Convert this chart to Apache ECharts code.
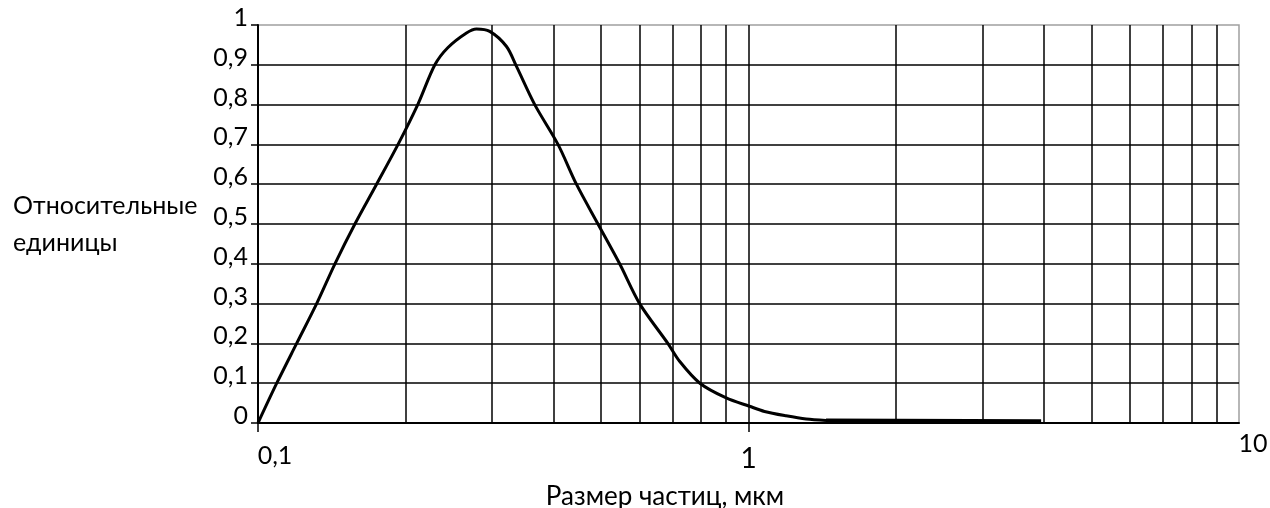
<!DOCTYPE html>
<html>
<head>
<meta charset="utf-8">
<script src="https://cdn.jsdelivr.net/npm/echarts@6/dist/echarts.min.js"></script>
<style>html,body{margin:0;padding:0;background:#fff}#c{width:1270px;height:508px}</style>
</head>
<body>
<div id="c"></div>
<script>
// Particle size, µm (log axis) and relative units
const sizeX = [0.1, 0.1092, 0.1199, 0.1317, 0.1435, 0.1576, 0.1745, 0.193, 0.2117, 0.2294, 0.2437, 0.2661, 0.2789, 0.2968, 0.3211, 0.3365, 0.3666, 0.4089, 0.4458, 0.4933, 0.5462, 0.5998, 0.6848, 0.7236, 0.7959, 0.9007, 1.0047, 1.078, 1.193, 1.311, 1.439];
const relY  = [0,   0.1,    0.2,    0.3,    0.4,    0.5,    0.6,    0.7,   0.8,    0.9,    0.943,  0.98,   0.99,   0.984,  0.946,  0.896,  0.8,    0.7,    0.6,    0.5,    0.4,    0.3,    0.2,    0.155,  0.1,    0.063,  0.042,  0.029, 0.018, 0.010, 0.0065];
// flat (thick) tail
const tailX = [1.439, 3.95];
const tailY = [0.0055, 0.004];
// vertical grid lines (log minor grid)
const gridX = [0.2, 0.3, 0.4, 0.5, 0.6, 0.7, 0.8, 0.9, 1, 2, 3, 4, 5, 6, 7, 8, 9];
// tick labels
const xTickValues = [0.1, 1, 10];
const xTickLabels = ['0,1', '1', '10'];
const yTickLabels = ['0', '0,1', '0,2', '0,3', '0,4', '0,5', '0,6', '0,7', '0,8', '0,9', '1'];
const xTitle = 'Размер частиц, мкм';
const yTitle = 'Относительные\nединицы';

const FONT = 'Lato';
const TICKFS = 25;
const chart = echarts.init(document.getElementById('c'), null, {renderer: 'canvas'});
chart.setOption({
  animation: false,
  backgroundColor: '#fff',
  textStyle: {fontFamily: FONT, color: '#000'},
  grid: {left: 258, top: 25, right: 31, bottom: 85, outerBoundsMode: 'none', containLabel: false,
         show: true, borderColor: '#a0a0a0', borderWidth: 1.5},
  xAxis: {
    type: 'log', logBase: 10, min: 0.1, max: 10,
    axisLine: {show: true, lineStyle: {color: '#000', width: 2}},
    axisTick: {show: true, customValues: [0.1, 1], length: 9, lineStyle: {color: '#000', width: 1.5}},
    splitLine: {show: false},
    axisLabel: {
      show: true, margin: 8, align: 'center', fontSize: TICKFS, fontFamily: FONT, color: '#000',
      formatter: function (v) {
        let i = xTickValues.findIndex(t => Math.abs(Math.log10(t) - Math.log10(v)) < 1e-6);
        if (i < 0) return '';
        const key = ['a', 'c', 'b'][i];
        return '{' + key + '|' + xTickLabels[i] + '}';
      },
      rich: {
        a: {fontSize: TICKFS, fontFamily: FONT, padding: [12, 0, 0, 34]},
        c: {fontSize: 28, fontFamily: FONT, padding: [14, 0, 0, 0]},
        b: {fontSize: TICKFS, fontFamily: FONT, padding: [0, 0, 0, 28]}
      }
    },
    name: xTitle, nameLocation: 'middle', nameGap: 61,
    nameTextStyle: {fontSize: 26, fontFamily: FONT, color: '#000', padding: [0, 167, 0, 0]}
  },
  yAxis: {
    type: 'value', min: 0, max: 1, interval: 0.1,
    axisLine: {show: true, lineStyle: {color: '#000', width: 2}},
    axisTick: {show: true, length: 7, lineStyle: {color: '#000', width: 1.5}},
    splitLine: {show: true, showMaxLine: false, lineStyle: {color: '#000', width: 1.5}},
    axisLabel: {
      margin: 10, fontSize: TICKFS, fontFamily: FONT, color: '#000', verticalAlign: 'bottom', lineHeight: 14,
      formatter: function (v) { return yTickLabels[Math.round(v * 10)]; }
    },
    name: yTitle, nameLocation: 'middle', nameRotate: 0, nameGap: 245,
    nameTextStyle: {fontSize: 25, fontFamily: FONT, color: '#000', align: 'left', lineHeight: 37, padding: [34, 0, 0, 0]}
  },
  series: [
    {
      type: 'line', data: [], z: 1, silent: true,
      markLine: {
        silent: true, symbol: ['none', 'none'], label: {show: false},
        lineStyle: {color: '#000', width: 1.5, type: 'solid'},
        data: gridX.map(v => ({xAxis: v}))
      }
    },
    {
      type: 'line', z: 5, smooth: 0.3, showSymbol: false, symbol: 'none',
      lineStyle: {color: '#000', width: 3},
      data: sizeX.map((x, i) => [x, relY[i]])
    },
    {
      type: 'line', z: 5, showSymbol: false, symbol: 'none',
      lineStyle: {color: '#000', width: 4.5},
      data: tailX.map((x, i) => [x, tailY[i]])
    }
  ]
});
</script>
</body>
</html>
